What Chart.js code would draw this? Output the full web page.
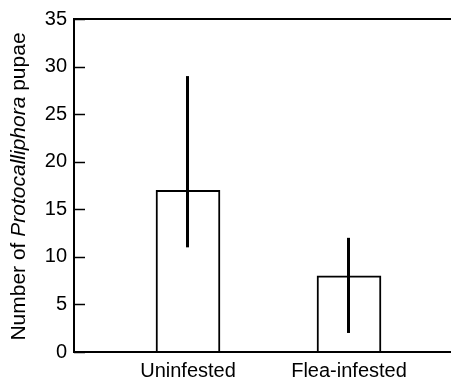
<!DOCTYPE html>
<html>
<head>
<meta charset="utf-8">
<script src="https://cdn.jsdelivr.net/npm/chart.js@4"></script>
<style>
  html, body { margin: 0; padding: 0; background: #fff; overflow: hidden; }
  #wrap { position: relative; width: 463px; height: 381px; }
</style>
</head>
<body>
<div id="wrap"><canvas id="pupae-chart"></canvas></div>
<script>
const categories = ['Uninfested', 'Flea-infested'];
const meanPupae = [17, 8];
const errLow = [11, 2];
const errHigh = [29, 12];
const yMax = 35;
const yStep = 5;

const FONT = '"Liberation Sans", Arial, Helvetica, sans-serif';

// frame lines + inward ticks on the y axis
const framePlugin = {
    id: 'frame',
    afterDraw(chart) {
        const { ctx, chartArea: a, scales } = chart;
        ctx.save();
        ctx.strokeStyle = '#000';
        ctx.lineWidth = 2;
        ctx.beginPath();
        ctx.moveTo(a.right, a.top);
        ctx.lineTo(a.left, a.top);
        ctx.lineTo(a.left, a.bottom);
        ctx.lineTo(a.right, a.bottom);
        ctx.stroke();

        ctx.lineWidth = 1.5;
        scales.y.ticks.forEach(t => {
            const y = Math.round(scales.y.getPixelForValue(t.value)) + 0.5;
            ctx.beginPath();
            ctx.moveTo(a.left, y);
            ctx.lineTo(a.left + 11, y);
            ctx.stroke();
        });
        ctx.restore();
    }
};

const errorBarPlugin = {
    id: 'errorBars',
    afterDatasetsDraw(chart) {
        const { ctx, scales } = chart;
        const bars = chart.getDatasetMeta(0).data;
        ctx.save();
        ctx.strokeStyle = '#000';
        ctx.lineWidth = 3;
        bars.forEach((bar, i) => {
            const x = bar.x - 0.5;
            ctx.beginPath();
            ctx.moveTo(x, scales.y.getPixelForValue(errHigh[i]));
            ctx.lineTo(x, scales.y.getPixelForValue(errLow[i]));
            ctx.stroke();
        });
        ctx.restore();
    }
};

// y title with italic genus name
const yTitlePlugin = {
    id: 'yTitle',
    afterDraw(chart) {
        const { ctx, chartArea: a } = chart;
        const parts = [
            { text: 'Number of ', font: '21px ' + FONT },
            { text: 'Protocalliphora', font: 'italic 21px ' + FONT },
            { text: ' pupae', font: '21px ' + FONT }
        ];
        ctx.save();
        let total = 0;
        parts.forEach(p => { ctx.font = p.font; p.w = ctx.measureText(p.text).width; total += p.w; });
        ctx.translate(25, (a.top + a.bottom) / 2 + 1);
        ctx.rotate(-Math.PI / 2);
        ctx.fillStyle = '#000';
        ctx.textBaseline = 'alphabetic';
        ctx.textAlign = 'left';
        let x = -total / 2;
        parts.forEach(p => { ctx.font = p.font; ctx.fillText(p.text, x, 0); x += p.w; });
        ctx.restore();
    }
};

new Chart(document.getElementById('pupae-chart'), {
    type: 'bar',
    data: {
        datasets: [{
            data: meanPupae.map((v, i) => ({ x: i + 1, y: v })),
            backgroundColor: '#fff',
            borderColor: '#000',
            borderWidth: 2,
            barThickness: 64
        }]
    },
    options: {
        responsive: true,
        maintainAspectRatio: false,
        animation: false,
        layout: { padding: { top: 14, right: 0, left: 0, bottom: 0 } },
        plugins: { legend: { display: false }, tooltip: { enabled: false } },
        scales: {
            x: {
                type: 'linear',
                offset: false,
                min: 0.292,
                max: 2.708,
                grid: { display: false, drawTicks: false, offset: false },
                border: { display: false },
                afterBuildTicks: s => { s.ticks = categories.map((c, i) => ({ value: i + 1 })); },
                afterFit: s => { s.height = 29; },
                ticks: {
                    padding: 7,
                    color: '#000',
                    font: { family: FONT, size: 20 },
                    callback: v => categories[v - 1]
                }
            },
            y: {
                min: 0,
                max: yMax,
                grid: { display: false, drawTicks: false },
                border: { display: false },
                afterFit: s => { s.width = 74; },
                ticks: {
                    stepSize: yStep,
                    padding: 7,
                    color: '#000',
                    font: { family: FONT, size: 20 }
                }
            }
        }
    },
    plugins: [framePlugin, errorBarPlugin, yTitlePlugin]
});
</script>
</body>
</html>
